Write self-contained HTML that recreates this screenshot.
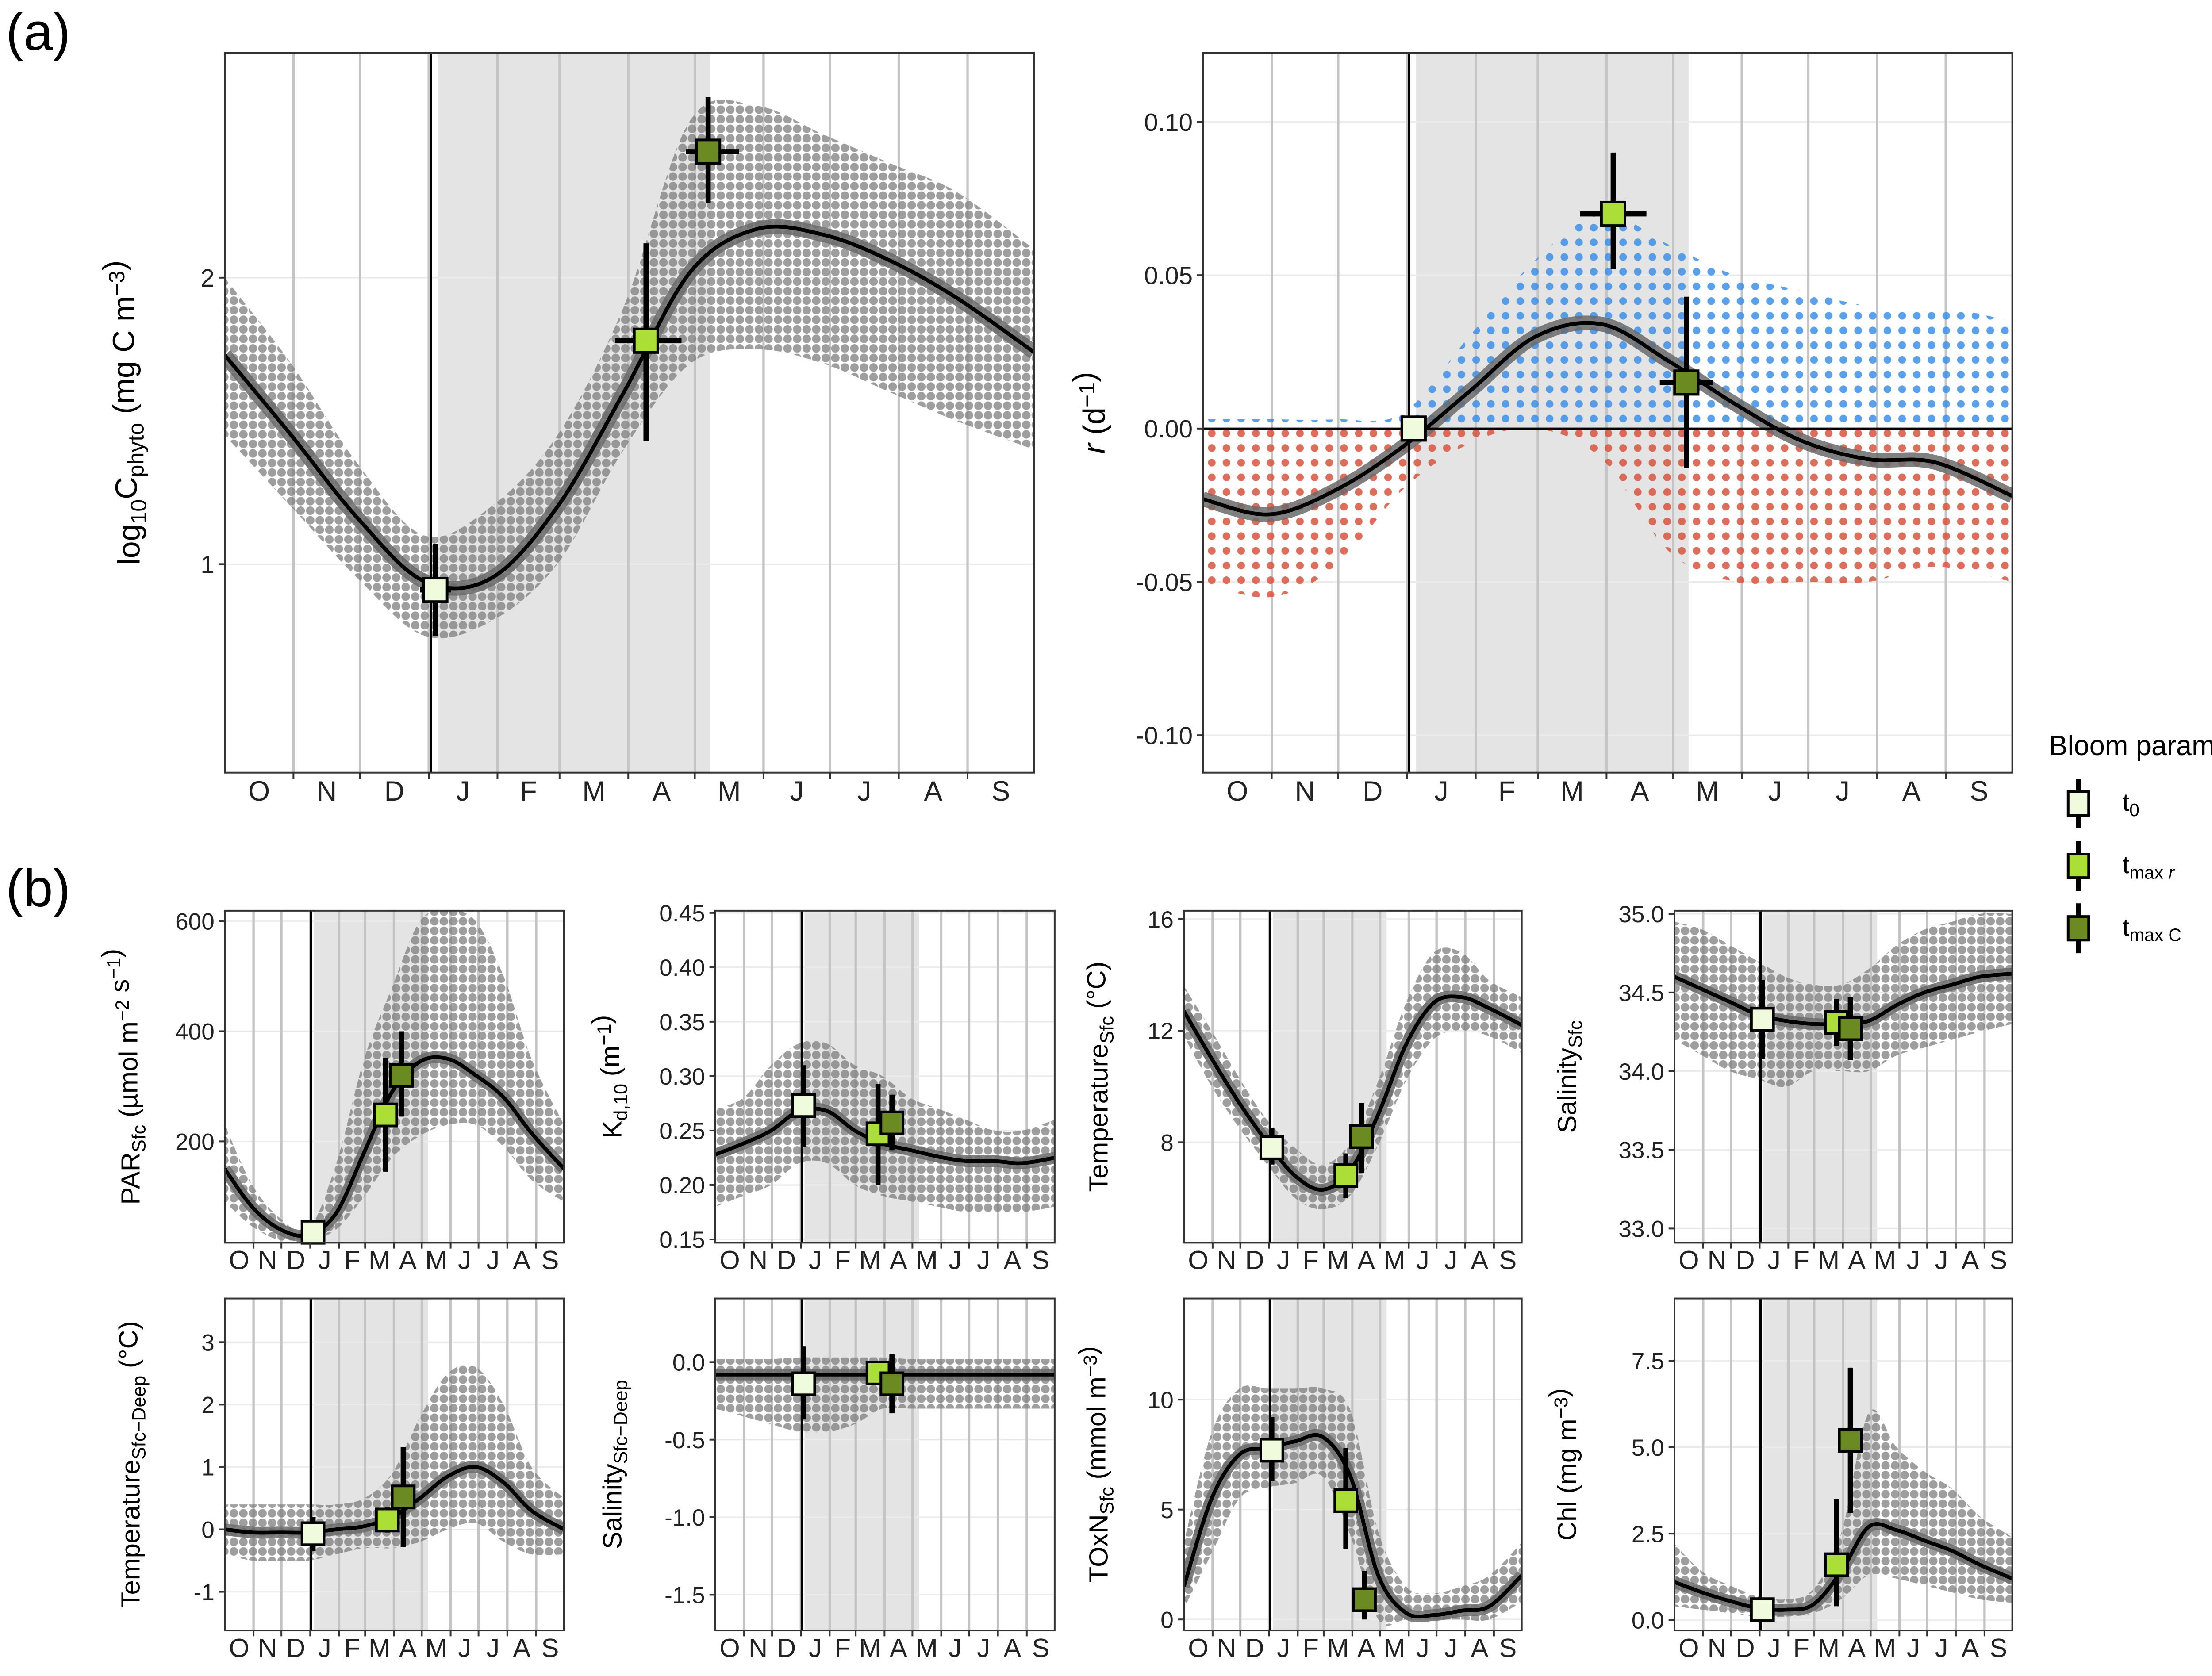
<!DOCTYPE html>
<html><head><meta charset="utf-8"><style>
html,body{margin:0;padding:0;background:#fff;}
svg{display:block;font-family:"Liberation Sans",Arial,sans-serif;}
</style></head><body>
<svg id="fig" xmlns="http://www.w3.org/2000/svg" width="5206" height="3789" viewBox="0 0 1568 1141" preserveAspectRatio="none">
<defs>
<pattern id="dotsGray" width="6.5" height="6.5" patternUnits="userSpaceOnUse"><circle cx="3.2" cy="3.2" r="2.9" fill="#7d7d7d" fill-opacity="0.75"/></pattern>
<pattern id="dotsBlue" width="10" height="10" patternUnits="userSpaceOnUse"><circle cx="5" cy="5" r="2.6" fill="#3d8fe8" fill-opacity="0.85"/></pattern>
<pattern id="dotsRed" width="10" height="10" patternUnits="userSpaceOnUse"><circle cx="5" cy="5" r="2.6" fill="#d9553f" fill-opacity="0.85"/></pattern>
</defs>
<text x="4" y="34" font-size="36">(a)</text>
<text x="4" y="617" font-size="36">(b)</text>
<g>
<text x="1395" y="514" font-size="19">Bloom parameters</text>
</g>
</svg>
<script>
// ---- shared time axis data ----
const monthLabels=['O','N','D','J','F','M','A','M','J','J','A','S'];
const monthBounds=[0,31,61,92,123,151,182,212,243,273,304,335,365];
const curveDays=[0,30,60,90,120,150,180,210,240,270,300,330,365];
const t0Day=93, shadeStart=96, shadeEnd=219;

// ---- panel a: phyto carbon ----
const aCLine=[1.73,1.45,1.16,0.94,0.95,1.2,1.6,2.02,2.17,2.15,2.06,1.93,1.74];
const aCUpper=[2.0,1.7,1.35,1.1,1.2,1.45,1.9,2.55,2.6,2.5,2.4,2.3,2.1];
const aCLower=[1.45,1.2,0.95,0.75,0.8,1.0,1.4,1.7,1.75,1.7,1.6,1.5,1.4];
const aCMarkers=[[95,0.91,0.75,1.07,88,102],[190,1.78,1.43,2.12,176,206],[218,2.44,2.26,2.63,208,232]];
const aCTicks=[1,2];

// ---- panel a: growth rate ----
const aRLine=[-0.023,-0.028,-0.02,-0.006,0.012,0.03,0.034,0.022,0.008,-0.004,-0.01,-0.011,-0.022];
const aRUpper=[0.003,0.003,0.003,0.005,0.03,0.055,0.07,0.06,0.05,0.045,0.04,0.04,0.035];
const aRLower=[-0.05,-0.055,-0.045,-0.02,-0.005,0.0,-0.01,-0.04,-0.05,-0.05,-0.05,-0.045,-0.05];
const aRMarkers=[[95,0.0,0.0,0.0,93,97],[185,0.070,0.052,0.090,170,200],[218,0.015,-0.013,0.043,206,230]];
const aRTicks=[-0.10,-0.05,0.00,0.05,0.10];

// ---- panel b ----
const parLine=[150,80,40,30,70,180,290,345,350,320,280,215,150];
const parUpper=[230,120,60,40,160,350,480,600,620,600,500,350,230];
const parLower=[90,45,20,20,40,100,170,210,230,230,190,130,90];
const parMarkers=[[95,35,35,35,93,97],[173,248,145,352,166,182],[190,320,245,400,183,198]];
const parTicks=[200,400,600];

const kdLine=[0.228,0.238,0.25,0.268,0.268,0.25,0.238,0.232,0.226,0.222,0.222,0.22,0.225];
const kdUpper=[0.27,0.28,0.31,0.33,0.33,0.31,0.3,0.28,0.27,0.26,0.25,0.25,0.26];
const kdLower=[0.18,0.19,0.2,0.22,0.22,0.2,0.19,0.185,0.18,0.175,0.175,0.175,0.18];
const kdMarkers=[[95,0.273,0.235,0.31,88,102],[175,0.247,0.2,0.293,168,182],[190,0.257,0.232,0.283,183,197]];
const kdTicks=[0.15,0.20,0.25,0.30,0.35,0.40,0.45];

const tsLine=[12.7,11.0,9.4,8.0,6.8,6.3,7.0,9.0,11.5,13.0,13.2,12.8,12.2];
const tsUpper=[13.6,12.0,10.3,8.8,7.8,7.2,8.0,10.2,13.0,14.8,14.8,13.8,13.2];
const tsLower=[11.8,10.0,8.5,7.2,6.0,5.6,6.1,7.9,10.2,11.7,12.0,11.8,11.2];
const tsMarkers=[[95,7.8,7.2,8.5,88,102],[175,6.8,6.0,7.6,168,182],[192,8.2,6.9,9.4,185,199]];
const tsTicks=[8,12,16];

const ssLine=[34.6,34.52,34.44,34.36,34.32,34.3,34.3,34.32,34.42,34.5,34.55,34.6,34.62];
const ssUpper=[34.95,34.9,34.8,34.7,34.6,34.55,34.55,34.65,34.8,34.9,34.95,35.0,35.0];
const ssLower=[34.2,34.1,34.0,33.95,33.9,34.0,34.0,34.0,34.1,34.15,34.2,34.25,34.3];
const ssMarkers=[[95,34.33,34.08,34.58,88,102],[175,34.31,34.16,34.46,168,182],[190,34.27,34.07,34.47,183,197]];
const ssTicks=[33.0,33.5,34.0,34.5,35.0];

const tdLine=[0,-0.05,-0.05,-0.05,0,0.05,0.2,0.5,0.85,1.0,0.75,0.3,0];
const tdUpper=[0.4,0.4,0.4,0.4,0.4,0.5,0.9,1.8,2.5,2.6,2.0,1.0,0.5];
const tdLower=[-0.4,-0.5,-0.5,-0.5,-0.4,-0.3,-0.3,-0.2,0.0,0.1,-0.2,-0.4,-0.4];
const tdMarkers=[[95,-0.07,-0.35,0.2,88,102],[175,0.15,-0.05,0.35,168,182],[192,0.52,-0.28,1.32,185,199]];
const tdTicks=[-1,0,1,2,3];

const sdLine=[-0.08,-0.08,-0.08,-0.08,-0.08,-0.08,-0.08,-0.08,-0.08,-0.08,-0.08,-0.08,-0.08];
const sdUpper=[0.02,0.02,0.02,0.03,0.03,0.03,0.03,0.02,0.02,0.02,0.02,0.02,0.02];
const sdLower=[-0.3,-0.35,-0.4,-0.45,-0.45,-0.4,-0.3,-0.3,-0.3,-0.3,-0.3,-0.3,-0.3];
const sdMarkers=[[95,-0.14,-0.37,0.1,88,102],[175,-0.07,-0.14,0.0,168,182],[190,-0.14,-0.33,0.05,183,197]];
const sdTicks=[-1.5,-1.0,-0.5,0.0];

const noLine=[1.5,5.5,7.5,7.8,8.1,8.3,6.5,2.0,0.3,0.2,0.4,0.6,2.0];
const noUpper=[3.5,8.5,10.5,10.5,10.5,10.5,9.5,4.0,1.5,1.2,1.5,2.0,3.5];
const noLower=[0.5,3.0,5.5,6.0,6.2,6.5,3.8,0.0,0.0,0.0,0.0,0.0,0.8];
const noMarkers=[[95,7.7,6.3,9.2,88,102],[175,5.4,3.2,7.8,168,182],[195,0.9,0.0,2.2,188,202]];
const noTicks=[0,5,10];

const chlLine=[1.1,0.8,0.55,0.35,0.3,0.45,1.4,2.7,2.6,2.3,2.0,1.6,1.2];
const chlUpper=[2.2,1.4,1.0,0.7,0.6,0.9,2.5,6.0,5.0,4.3,3.8,3.0,2.4];
const chlLower=[0.4,0.3,0.2,0.1,0.1,0.2,0.6,1.3,1.2,1.0,0.8,0.6,0.5];
const chlMarkers=[[95,0.3,0.3,0.3,93,97],[175,1.6,0.4,3.5,168,182],[190,5.2,3.1,7.3,183,197]];
const chlTicks=[0.0,2.5,5.0,7.5];

const markerFills=['#f0fadc','#acde38','#6b8a22'];

const NS='http://www.w3.org/2000/svg';
const svg=document.getElementById('fig');
function mk(tag,attrs,parent){const e=document.createElementNS(NS,tag);for(const k in attrs)e.setAttribute(k,attrs[k]);(parent||svg).appendChild(e);return e;}

function smoothPath(pts){
  let d='M'+pts[0][0]+','+pts[0][1];
  for(let i=0;i<pts.length-1;i++){
    const p0=pts[Math.max(i-1,0)],p1=pts[i],p2=pts[i+1],p3=pts[Math.min(i+2,pts.length-1)];
    const c1x=p1[0]+(p2[0]-p0[0])/6,c1y=p1[1]+(p2[1]-p0[1])/6;
    const c2x=p2[0]-(p3[0]-p1[0])/6,c2y=p2[1]-(p3[1]-p1[1])/6;
    d+=' C'+c1x+','+c1y+' '+c2x+','+c2y+' '+p2[0]+','+p2[1];
  }
  return d;
}

function panel(cfg){
  const g=mk('g',{});
  
  
  const {x0,x1,y0,y1,vmin,vmax}=cfg;
  const xs=d=>x0+d/365*(x1-x0);
  const ys=v=>y1-(v-vmin)/(vmax-vmin)*(y1-y0);
  const cp='clip-'+cfg.name;
  const cl=mk('clipPath',{id:cp},g);mk('rect',{x:x0,y:y0,width:x1-x0,height:y1-y0},cl);
  mk('rect',{x:x0,y:y0,width:x1-x0,height:y1-y0,fill:'#fff'},g);
  const shade=mk('rect',{x:xs(shadeStart),y:y0,width:xs(shadeEnd)-xs(shadeStart),height:y1-y0,fill:'#e4e4e4'},g);
  
  
  cfg.ticks.forEach(t=>{mk('line',{x1:x0,x2:x1,y1:ys(t),y2:ys(t),stroke:'#ebebeb','stroke-width':1},g);});
  monthBounds.slice(1,12).forEach(b=>{mk('line',{x1:xs(b),x2:xs(b),y1:y0,y2:y1,stroke:'#c4c4c4','stroke-width':1.6},g);});
  const cg=mk('g',{'clip-path':'url(#'+cp+')'},g);
  const up=curveDays.map((d,i)=>[xs(d),ys(cfg.upper[i])]);
  const lo=curveDays.map((d,i)=>[xs(d),ys(cfg.lower[i])]).reverse();
  if(cfg.split){
    const upB=curveDays.map((d,i)=>[xs(d),ys(Math.max(cfg.upper[i],0))]);
    const z=curveDays.map(d=>[xs(d),ys(0)]).reverse();
    const pb=mk('path',{d:smoothPath(upB)+' L'+z.map(p=>p.join(',')).join(' L')+'Z',fill:'url(#dotsBlue)'},cg);
    
    
    const zz=curveDays.map(d=>[xs(d),ys(0)]);
    const loR=curveDays.map((d,i)=>[xs(d),ys(Math.min(cfg.lower[i],0))]).reverse();
    const pr=mk('path',{d:'M'+zz.map(p=>p.join(',')).join(' L')+' L'+smoothPath(loR).slice(1)+'Z',fill:'url(#dotsRed)'},cg);
    
    
  } else {
    const pc=mk('path',{d:smoothPath(up)+' L'+smoothPath(lo).slice(1)+'Z',fill:'url(#dotsGray)'},cg);
    
    
  }
  if(cfg.zero){mk('line',{x1:x0,x2:x1,y1:ys(0),y2:ys(0),stroke:'#000','stroke-width':1.3},g);}
  mk('line',{x1:xs(t0Day),x2:xs(t0Day),y1:y0,y2:y1,stroke:'#000','stroke-width':1.5},g);
  const lp=curveDays.map((d,i)=>[xs(d),ys(cfg.line[i])]);
  mk('path',{d:smoothPath(lp),fill:'none',stroke:'#6a6a6a','stroke-width':cfg.ribbon||8,'stroke-opacity':0.85},cg);
  const ln=mk('path',{d:smoothPath(lp),fill:'none',stroke:'#000','stroke-width':2.6},cg);
  
  
  const sz=cfg.ms||16;
  cfg.markers.forEach((m,i)=>{
    const mg=mk('g',{},g);
    
    
    mk('line',{x1:xs(m[0]),x2:xs(m[0]),y1:ys(m[2]),y2:ys(m[3]),stroke:'#000','stroke-width':3.5},mg);
    mk('line',{x1:xs(m[4]),x2:xs(m[5]),y1:ys(m[1]),y2:ys(m[1]),stroke:'#000','stroke-width':3.5},mg);
    mk('rect',{x:xs(m[0])-sz/2,y:ys(m[1])-sz/2,width:sz,height:sz,fill:markerFills[i],stroke:'#000','stroke-width':1.8},mg);
  });
  mk('rect',{x:x0,y:y0,width:x1-x0,height:y1-y0,fill:'none',stroke:'#333','stroke-width':1.2},g);
  const fs=cfg.fs||17;
  cfg.ticks.forEach(t=>{
    mk('line',{x1:x0-4,x2:x0,y1:ys(t),y2:ys(t),stroke:'#333','stroke-width':1.2},g);
    const tx=mk('text',{x:x0-7,y:ys(t)+fs*0.36,'font-size':fs,'text-anchor':'end',fill:'#222'},g);
    tx.textContent=t.toFixed(cfg.dec);
    
    
  });
  monthBounds.slice(1,12).forEach(b=>{
    mk('line',{x1:xs(b),x2:xs(b),y1:y1,y2:y1+4,stroke:'#333','stroke-width':1.2},g);
  });
  monthLabels.forEach((l,i)=>{
    const c=(monthBounds[i]+monthBounds[i+1])/2;
    const tx=mk('text',{x:xs(c),y:y1+fs+2,'font-size':cfg.mfs||fs+2,'text-anchor':'middle',fill:'#222'},g);
    tx.textContent=l;
    
    
  });
  const tt=mk('text',{transform:'translate('+cfg.tx+','+(y0+y1)/2+') rotate(-90)','font-size':cfg.tfs||18,'text-anchor':'middle',fill:'#000'},g);
  tt.innerHTML=cfg.title;
  
  
}

const sup=(s)=>'<tspan font-size="0.72em" dy="-0.45em">'+s+'</tspan><tspan dy="0.45em"></tspan>';

panel({name:'phyto-carbon-panel',x0:153,x1:704,y0:36,y1:526,vmin:0.272,vmax:2.785,line:aCLine,upper:aCUpper,lower:aCLower,markers:aCMarkers,ticks:aCTicks,dec:0,tx:95,fs:17,mfs:19,ms:16,ribbon:10,tfs:21,
 title:'log'+'<tspan font-size="0.72em" dy="0.3em">10</tspan><tspan dy="-0.3em">C</tspan><tspan font-size="0.72em" dy="0.3em">phyto</tspan><tspan dy="-0.3em"> (mg C m</tspan>'+sup('−3')+')'});
panel({name:'growth-rate-panel',x0:819,x1:1370,y0:36,y1:526,vmin:-0.1122,vmax:0.1225,line:aRLine,upper:aRUpper,lower:aRLower,markers:aRMarkers,ticks:aRTicks,dec:2,tx:752,fs:17,mfs:19,ms:16,ribbon:10,split:true,zero:true,tfs:21,
 title:'<tspan font-style="italic">r</tspan> (d'+sup('−1')+')'});

const R1=[620,846],R2=[884,1110];
panel({name:'par-panel',x0:153,x1:384,y0:R1[0],y1:R1[1],vmin:16,vmax:619,line:parLine,upper:parUpper,lower:parLower,markers:parMarkers,ticks:parTicks,dec:0,tx:95,fs:16,mfs:18,ms:15,
 title:'PAR<tspan font-size="0.72em" dy="0.3em">Sfc</tspan><tspan dy="-0.3em"> (µmol m</tspan>'+sup('−2')+' s'+sup('−1')+')'});
panel({name:'kd-panel',x0:487,x1:718,y0:R1[0],y1:R1[1],vmin:0.147,vmax:0.452,line:kdLine,upper:kdUpper,lower:kdLower,markers:kdMarkers,ticks:kdTicks,dec:2,tx:423,fs:16,mfs:18,ms:15,
 title:'K<tspan font-size="0.72em" dy="0.3em">d,10</tspan><tspan dy="-0.3em"> (m</tspan>'+sup('−1')+')'});
panel({name:'temperature-sfc-panel',x0:806,x1:1036,y0:R1[0],y1:R1[1],vmin:4.4,vmax:16.3,line:tsLine,upper:tsUpper,lower:tsLower,markers:tsMarkers,ticks:tsTicks,dec:0,tx:754,fs:16,mfs:18,ms:15,
 title:'Temperature<tspan font-size="0.72em" dy="0.3em">Sfc</tspan><tspan dy="-0.3em"> (°C)</tspan>'});
panel({name:'salinity-sfc-panel',x0:1140,x1:1370,y0:R1[0],y1:R1[1],vmin:32.91,vmax:35.02,line:ssLine,upper:ssUpper,lower:ssLower,markers:ssMarkers,ticks:ssTicks,dec:1,tx:1073,fs:16,mfs:18,ms:15,
 title:'Salinity<tspan font-size="0.72em" dy="0.3em">Sfc</tspan>'});
panel({name:'temperature-diff-panel',x0:153,x1:384,y0:R2[0],y1:R2[1],vmin:-1.62,vmax:3.7,line:tdLine,upper:tdUpper,lower:tdLower,markers:tdMarkers,ticks:tdTicks,dec:0,tx:95,fs:16,mfs:18,ms:15,
 title:'Temperature<tspan font-size="0.72em" dy="0.3em">Sfc−Deep</tspan><tspan dy="-0.3em"> (°C)</tspan>'});
panel({name:'salinity-diff-panel',x0:487,x1:718,y0:R2[0],y1:R2[1],vmin:-1.73,vmax:0.41,line:sdLine,upper:sdUpper,lower:sdLower,markers:sdMarkers,ticks:sdTicks,dec:1,tx:423,fs:16,mfs:18,ms:15,
 title:'Salinity<tspan font-size="0.72em" dy="0.3em">Sfc−Deep</tspan>'});
panel({name:'toxn-panel',x0:806,x1:1036,y0:R2[0],y1:R2[1],vmin:-0.5,vmax:14.6,line:noLine,upper:noUpper,lower:noLower,markers:noMarkers,ticks:noTicks,dec:0,tx:754,fs:16,mfs:18,ms:15,
 title:'TOxN<tspan font-size="0.72em" dy="0.3em">Sfc</tspan><tspan dy="-0.3em"> (mmol m</tspan>'+sup('−3')+')'});
panel({name:'chl-panel',x0:1140,x1:1370,y0:R2[0],y1:R2[1],vmin:-0.3,vmax:9.3,line:chlLine,upper:chlUpper,lower:chlLower,markers:chlMarkers,ticks:chlTicks,dec:1,tx:1073,fs:16,mfs:18,ms:15,
 title:'Chl (mg m'+sup('−3')+')'});

const legendLabels=['t<tspan font-size="0.72em" dy="0.3em">0</tspan>','t<tspan font-size="0.72em" dy="0.3em">max <tspan font-style="italic">r</tspan></tspan>','t<tspan font-size="0.72em" dy="0.3em">max C</tspan>'];
const legendNames=['legend-entry-t0','legend-entry-tmax-r','legend-entry-tmax-c'];
legendLabels.forEach((l,i)=>{
  const cy=547+i*42.5;
  const g=mk('g',{});
  
  
  mk('line',{x1:1415,x2:1415,y1:cy-17,y2:cy+17,stroke:'#000','stroke-width':3.5},g);
  mk('rect',{x:1408,y:cy-8,width:14,height:16,fill:markerFills[i],stroke:'#000','stroke-width':1.8},g);
  const t=mk('text',{x:1445,y:cy+5,'font-size':17},g);
  t.innerHTML=l;
});
</script>
</body></html>
